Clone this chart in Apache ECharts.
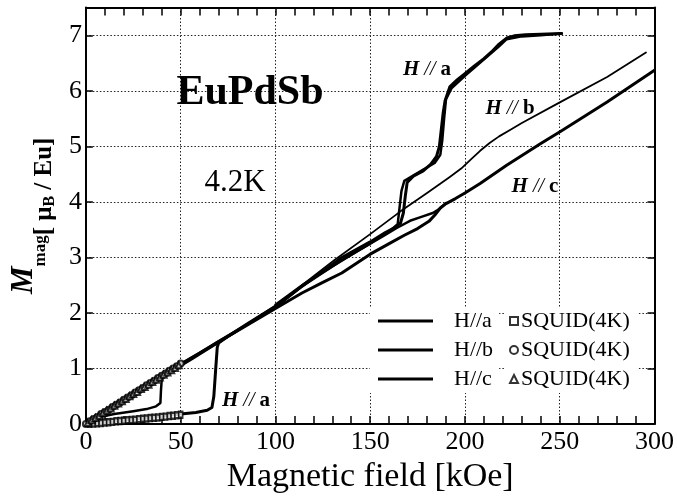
<!DOCTYPE html>
<html><head><meta charset="utf-8">
<script src="https://cdn.jsdelivr.net/npm/echarts@6/dist/echarts.min.js"></script>
<style>html,body{margin:0;padding:0;background:#fff}#c{width:677px;height:499px}</style>
</head><body><div id="c"></div>
<script>
// Magnetization (mu_B/Eu) vs magnetic field (kOe), EuPdSb at 4.2 K
const haUp = [[0,0],[10,0.03],[20,0.07],[30,0.1],[40,0.14],[50,0.18],[58,0.21],[64,0.25],[66.5,0.3],[67.5,0.5],[68.5,1.0],[69.3,1.38],[70,1.46],
  [75,1.58],[85,1.8],[100,2.12],[114,2.48],[125,2.75],[135,3.0],[150,3.28],[158,3.45],[163,3.54],[166,3.62],[167.5,3.8],[168.5,4.1],[169.5,4.35],
  [173,4.47],[178,4.56],[182,4.68],[185,4.82],[186.5,5.0],[187.5,5.3],[188.5,5.6],[189.5,5.82],[192,6.07],[196,6.2],[200,6.31],[205,6.45],
  [210,6.58],[214,6.7],[218,6.84],[222,6.95],[226,6.99],[232,7.01],[240,7.02],[251,7.03]];
const haDown = [[251,7.03],[240,7.0],[230,6.98],[222,6.93],[218,6.8],[200,6.27],[193,6.05],[190,5.85],[189,5.5],[188,5.1],[187,4.85],[184,4.7],
  [178,4.58],[172,4.46],[168,4.38],[166.5,4.2],[165.5,3.9],[164.5,3.6],[160,3.47],[150,3.25],[135,2.95],[114,2.48],[100,2.1],[85,1.79],
  [70,1.47],[55,1.15],[45,0.95],[41,0.86],[40,0.8],[39.6,0.6],[39.3,0.38],[37,0.32],[32,0.27],[25,0.23],[15,0.18],[6,0.12],[2,0.05],[0,0]];
const hb = [[0,0],[10,0.22],[20,0.44],[30,0.66],[40,0.87],[50,1.08],[60,1.29],[70,1.5],[85,1.8],[100,2.13],[114,2.5],[131,2.95],[150,3.42],
  [166,3.83],[180,4.16],[192,4.45],[198,4.6],[203,4.76],[208,4.92],[213,5.06],[218,5.18],[224,5.3],[230,5.42],[251,5.81],[275,6.25],[295.5,6.69]];
const hcUp = [[0,0],[10,0.23],[20,0.45],[30,0.66],[40,0.87],[50,1.08],[60,1.28],[70,1.48],[85,1.78],[100,2.08],[114,2.36],[125,2.55],[135,2.72],
  [150,3.06],[160,3.25],[168,3.4],[175,3.52],[181,3.65],[184,3.76],[187,3.89],[190,3.97],[195,4.06],[200,4.16],[208,4.33],[222,4.66],[240,5.05],
  [251,5.28],[275,5.8],[300,6.37]];
const hcDown = [[190,3.98],[186,3.86],[183,3.8],[177,3.73],[171,3.66],[164,3.53],[157,3.39],[145,3.15],[130,2.84],[115,2.52],[100,2.15]];
const squidA = [[2,0.005],[4,0.01],[6,0.015],[8,0.02],[10,0.03],[12,0.035],[14,0.04],[16,0.05],[18,0.055],[20,0.06],[22,0.07],[24,0.075],
  [26,0.08],[28,0.09],[30,0.095],[32,0.1],[34,0.11],[36,0.115],[38,0.12],[40,0.13],[42,0.135],[44,0.145],[46,0.15],[48,0.16],[50,0.17]];
const squidB = [[0,0],[2,0.05],[4,0.09],[6,0.13],[8,0.18],[10,0.22],[12,0.26],[14,0.31],[16,0.35],[18,0.39],[20,0.44],[22,0.48],[24,0.52],
  [26,0.57],[28,0.61],[30,0.65],[32,0.7],[34,0.74],[36,0.78],[38,0.83],[40,0.87],[42,0.91],[44,0.96],[46,1.0],[48,1.04],[50,1.09]];
const squidC = [[1,0.02],[3,0.07],[5,0.11],[7,0.15],[9,0.2],[11,0.24],[13,0.28],[15,0.33],[17,0.37],[19,0.41],[21,0.45],[23,0.5],[25,0.54],
  [27,0.58],[29,0.63],[31,0.67],[33,0.71],[35,0.76],[37,0.8],[39,0.84],[41,0.89],[43,0.93],[45,0.97],[47,1.01],[49,1.06]];

const SERIF = "'Liberation Serif','Times New Roman',serif";
const chart = echarts.init(document.getElementById('c'), null, {renderer:'canvas'});
const gridLine = {show:true, lineStyle:{color:'#222', width:1, type:[1.5,2]}};
const axisLine = {show:true, onZero:false, lineStyle:{color:'#000', width:2}};
const lbl = {color:'#000', fontFamily:SERIF, fontSize:26};
const annot = (txt) => ({
  text: txt,
  rich: {
    i:{fontFamily:SERIF, fontStyle:'italic', fontWeight:'bold', fontSize:21, fill:'#000'},
    n:{fontFamily:SERIF, fontStyle:'italic', fontSize:20, fill:'#000'},
    b:{fontFamily:SERIF, fontWeight:'bold', fontSize:21, fill:'#000'}
  },
  align:'center', verticalAlign:'middle'
});
const lineS = (name, data, w) => ({name, type:'line', data, symbol:'none',
  lineStyle:{color:'#000', width:w, join:'round', cap:'round'}, itemStyle:{color:'#000'}, z:3});

chart.setOption({
  backgroundColor:'#fff',
  animation:false,
  grid:{left:82, right:20, top:7.5, bottom:67},
  xAxis:[
    {type:'value', min:0, max:300, interval:50, axisLine, splitLine:gridLine,
     axisTick:{show:true, inside:true, length:8, lineStyle:{color:'#000', width:1.5}},
     minorTick:{show:true, splitNumber:5, length:8, lineStyle:{color:'#000', width:1.5}},
     axisLabel:{...lbl, margin:5},
     name:'Magnetic field [kOe]', nameLocation:'middle', nameGap:28,
     nameTextStyle:{color:'#000', fontFamily:SERIF, fontSize:34}},
    {type:'value', position:'top', min:0, max:300, interval:50, axisLine, splitLine:{show:false},
     axisTick:{show:true, inside:true, length:8, lineStyle:{color:'#000', width:1.5}},
     minorTick:{show:true, splitNumber:5, length:8, lineStyle:{color:'#000', width:1.5}},
     axisLabel:{show:false}}
  ],
  yAxis:[
    {type:'value', min:0, max:7.5, interval:1, axisLine, splitLine:gridLine,
     axisTick:{show:true, inside:true, length:7, lineStyle:{color:'#000', width:1.5}},
     axisLabel:{...lbl, margin:4, formatter:(v)=> Number.isInteger(v)? String(v):''},
     name:'{m|M}{s|mag}{n|[ μ}{s2|B}{n| / Eu]}', nameLocation:'middle', nameRotate:90, nameGap:31,
     nameTextStyle:{color:'#000', fontFamily:SERIF,
       rich:{
         m:{fontFamily:SERIF, fontStyle:'italic', fontWeight:'bold', fontSize:31, lineHeight:30, verticalAlign:'top', padding:[0,0,0,0], color:'#000'},
         s:{fontFamily:SERIF, fontWeight:'bold', fontSize:17, lineHeight:17, verticalAlign:'top', padding:[24,0,0,0], color:'#000'},
         n:{fontFamily:SERIF, fontWeight:'bold', fontSize:25, lineHeight:25, verticalAlign:'top', padding:[24,0,0,0], color:'#000'},
         s2:{fontFamily:SERIF, fontWeight:'bold', fontSize:16, lineHeight:16, verticalAlign:'top', padding:[34,0,0,0], color:'#000'}
       }}},
    {type:'value', position:'right', min:0, max:7.5, interval:1, axisLine, splitLine:{show:false},
     axisTick:{show:true, inside:true, length:7, lineStyle:{color:'#000', width:1.5}},
     axisLabel:{show:false}}
  ],
  legend:[
    {orient:'vertical', left:370, top:307, itemWidth:55, itemHeight:3, itemGap:7,
     backgroundColor:'#fff', padding:[3,6,3,8],
     data:[{name:'H//a', icon:'rect'},{name:'H//b', icon:'rect'},{name:'H//c', icon:'rect'}],
     itemStyle:{color:'#000'},
     textStyle:{color:'#000', fontFamily:SERIF, fontSize:22, padding:[0,0,0,16]}},
    {orient:'vertical', left:505, top:307, itemWidth:8, itemHeight:8, itemGap:7,
     backgroundColor:'#fff', padding:[3,8,3,4],
     data:['SQUID(4K) a','SQUID(4K) b','SQUID(4K) c'],
     formatter:()=> 'SQUID(4K)',
     textStyle:{color:'#000', fontFamily:SERIF, fontSize:22, padding:[0,0,0,-2]}}
  ],
  series:[
    lineS('H//a', haUp, 3),
    lineS('H//a', haDown, 2.5),
    lineS('H//b', hb, 1.8),
    lineS('H//c', hcUp, 3),
    lineS('H//c', hcDown, 2.5),
    {name:'SQUID(4K) a', type:'scatter', data:squidA, symbol:'emptyRect', symbolSize:[4,6], itemStyle:{color:'#000', borderColor:'#000', borderWidth:1.3}, z:4},
    {name:'SQUID(4K) b', type:'scatter', data:squidB, symbol:'emptyCircle', symbolSize:6, itemStyle:{color:'#000', borderWidth:1.2}, z:4},
    {name:'SQUID(4K) c', type:'scatter', data:squidC, symbol:'emptyTriangle', symbolSize:6, itemStyle:{color:'#000', borderWidth:1.2}, z:4}
  ],
  graphic:[
    {type:'text', x:250, y:93, z:10, style:{text:'EuPdSb', font:"bold 42px "+SERIF, fill:'#000', align:'center', verticalAlign:'middle'}},
    {type:'text', x:235, y:183, z:10, style:{text:'4.2K', font:"31px "+SERIF, fill:'#000', align:'center', verticalAlign:'middle'}},
    {type:'text', x:427, y:70, z:10, style:annot('{i|H}{n| // }{b|a}')},
    {type:'text', x:510, y:109, z:10, style:annot('{i|H}{n| // }{b|b}')},
    {type:'text', x:535, y:187, z:10, style:annot('{i|H}{n| // }{b|c}')},
    {type:'text', x:246, y:401, z:10, style:annot('{i|H}{n| // }{b|a}')}
  ]
});
</script></body></html>
